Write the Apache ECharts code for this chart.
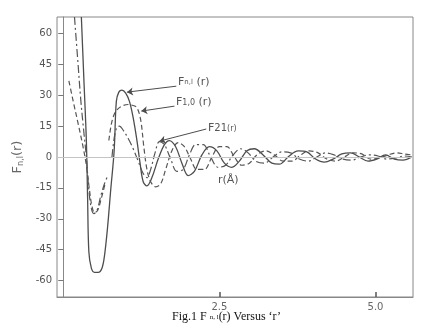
<!DOCTYPE html>
<html>
<head>
<meta charset="utf-8">
<script src="https://cdn.jsdelivr.net/npm/echarts@6/dist/echarts.min.js"></script>
<style>
  html, body { margin: 0; padding: 0; background: #fff; }
  #chart { width: 441px; height: 330px; }
</style>
</head>
<body>
<div id="chart"></div>
<script>
// values (r in Å)
const rNl = [0.29, 0.33, 0.37, 0.39, 0.41, 0.45, 0.50, 0.56, 0.62, 0.66, 0.71, 0.76, 0.815, 0.85, 0.89, 0.94, 1.00, 1.06, 1.12, 1.18, 1.23, 1.28, 1.34, 1.42, 1.52, 1.62, 1.70, 1.80, 1.90, 2.00, 2.10, 2.22, 2.34, 2.46, 2.58, 2.70, 2.82, 2.94, 3.06, 3.20, 3.34, 3.46, 3.60, 3.76, 3.90, 4.04, 4.18, 4.32, 4.46, 4.60, 4.74, 4.88, 5.02, 5.16, 5.30, 5.44, 5.58]
const fNl = [68, 38, 8, -20, -46, -54, -56, -56, -54, -48, -34, -16, 3, 27, 31.5, 32.5, 31, 27, 19, 8, -3, -12, -14, -10, -1, 6, 8, 5, -3, -9, -7, 1, 5, 3, -3, -5, -2, 3, 4, 1, -3, -3.5, 0, 3, 2.5, -1, -2.5, -1, 1.5, 2, 0, -2, -1, 1, -1, -1.5, 0]

const r10 = [0.09, 0.16, 0.24, 0.31, 0.37, 0.42, 0.46, 0.50, 0.55, 0.61, 0.67, null, 0.73, 0.77, 0.82, 0.88, 0.96, 1.04, 1.12, 1.18, 1.24, 1.29, 1.34, 1.40, 1.48, 1.56, 1.64, 1.74, 1.84, 1.94, 2.04, 2.14, 2.26, 2.38, 2.50, 2.62, 2.74, 2.86, 2.98, 3.10, 3.24, 3.38, 3.52, 3.66, 3.80, 3.94, 4.08, 4.22, 4.36, 4.50, 4.64, 4.78, 4.92, 5.06, 5.20, 5.34, 5.46, 5.58]
const f10 = [37, 27, 16, 6, -4, -16, -24, -27, -26, -20, -13, null, 8, 16, 21, 23.5, 25, 25.5, 25, 24, 18, 5, -6, -12, -14.5, -13, -6, 3, 7, 5, -1, -6, -6, 0, 5, 5, 0, -4, -3, 1, 3, 1, -2, -2, 1, 3, 2, -1, -2, 0, 2, 1.5, -1, -0.5, 1, 2, 1.5, 1]

const r21 = [0.18, 0.23, 0.28, 0.33, 0.37, 0.41, 0.45, 0.49, 0.54, 0.60, 0.66, 0.70, null, 0.78, 0.82, 0.86, 0.90, 0.96, 1.04, 1.12, 1.20, 1.28, 1.34, 1.40, 1.47, 1.54, 1.62, 1.72, 1.82, 1.92, 2.02, 2.12, 2.24, 2.36, 2.48, 2.60, 2.72, 2.84, 2.96, 3.08, 3.22, 3.36, 3.50, 3.64, 3.78, 3.92, 4.06, 4.20, 4.34, 4.48, 4.62, 4.76, 4.90, 5.04, 5.18, 5.32, 5.46, 5.58]
const f21 = [68, 48, 28, 12, 0, -16, -25, -27.5, -26, -19, -13, -10, null, 0, 10, 14.5, 15, 13, 9, 4, -2, -8, -10, -6, 2, 7.5, 6, -1, -7, -6, 1, 6, 6, 0, -5, -4, 1, 4, 2, -2, -3, 0, 2.5, 2, -1, -2, 0, 2, 1, -1, -1.5, 0, 1, 0.5, -1, -0.5, 0.5, 0]

const xTicks = [2.5, 5.0]
const yTicks = [-60, -45, -30, -15, 0, 15, 30, 45, 60]

// arrows from the curve labels to the curves: [from, to] in data units
const arrowNl = [[1.81, 34.4], [1.02, 31.5]]
const arrow10 = [[1.78, 24.7], [1.25, 22.3]]
const arrow21 = [[2.29, 13.6], [1.54, 7.7]]

const pairs = (xs, ys) => xs.map((x, i) => (ys[i] === null ? ['-', '-'] : [x, ys[i]]))

const ink = '#4d4d4d'

const arrowLine = (a) => ({
  silent: true,
  symbol: ['none', 'arrow'],
  symbolSize: 6,
  label: { show: false },
  lineStyle: { color: ink, type: 'solid', width: 1 },
  data: [[{ coord: a[0] }, { coord: a[1] }]]
})

const chart = echarts.init(document.getElementById('chart'))

const option = {
  animation: false,
  backgroundColor: '#fff',
  grid: { left: 57, right: 28, top: 17, bottom: 33, show: true, borderColor: '#888', borderWidth: 1 },
  xAxis: {
    type: 'value',
    min: -0.1,
    max: 5.6,
    axisLine: { show: true, onZero: false, lineStyle: { color: '#888' } },
    axisTick: { show: true, inside: true, length: 5, customValues: xTicks, lineStyle: { color: '#555', width: 1.5 } },
    axisLabel: { customValues: xTicks, formatter: (v) => v.toFixed(1), color: '#666', fontSize: 10, margin: 5, fontFamily: 'DejaVu Sans' },
    splitLine: { show: false }
  },
  yAxis: {
    type: 'value',
    min: -68,
    max: 68,
    name: '{f|F}{s|n,l}{f|(r)}',
    nameLocation: 'middle',
    nameRotate: 90,
    nameGap: 31,
    nameTextStyle: {
      rich: {
        f: { fontSize: 13, color: '#666', fontFamily: 'DejaVu Sans' },
        s: { fontSize: 8, color: '#666', fontFamily: 'DejaVu Sans', verticalAlign: 'bottom', padding: [6, 0, 0, 0] }
      }
    },
    axisLine: { show: true, lineStyle: { color: '#888' } },
    axisTick: { show: true, length: 5, customValues: yTicks, lineStyle: { color: '#777' } },
    axisLabel: { customValues: yTicks, color: '#555', fontSize: 10, margin: 5, fontFamily: 'DejaVu Sans' },
    splitLine: { show: false }
  },
  series: [
    {
      name: 'Fnl',
      type: 'line',
      data: pairs(rNl, fNl),
      smooth: 0.35,
      showSymbol: false,
      lineStyle: { color: ink, width: 1.3 },
      markLine: {
        silent: true,
        symbol: 'none',
        label: { show: false },
        lineStyle: { color: '#c4c4c4', type: 'solid', width: 1 },
        data: [{ yAxis: 0 }]
      }
    },
    {
      name: 'F10',
      type: 'line',
      data: pairs(r10, f10),
      smooth: 0.35,
      showSymbol: false,
      connectNulls: false,
      lineStyle: { color: '#555', width: 1.2, type: [5, 3] },
      markLine: arrowLine(arrow10)
    },
    {
      name: 'F21',
      type: 'line',
      data: pairs(r21, f21),
      smooth: 0.35,
      showSymbol: false,
      connectNulls: false,
      lineStyle: { color: '#555', width: 1.2, type: [8, 3, 2, 3] },
      markLine: arrowLine(arrow21)
    },
    {
      name: 'arrowNl',
      type: 'line',
      data: [],
      markLine: arrowLine(arrowNl)
    }
  ],
  graphic: [
    {
      type: 'text', left: 178, top: 77,
      style: { rich: { f: { fontSize: 11, fill: '#555', fontFamily: 'DejaVu Sans' }, s: { fontSize: 7, fill: '#555', fontFamily: 'DejaVu Sans' } }, text: '{f|F}{s|n,l}{f| (r)}' }
    },
    {
      type: 'text', left: 176, top: 97,
      style: { rich: { f: { fontSize: 11, fill: '#555', fontFamily: 'DejaVu Sans' }, s: { fontSize: 8, fill: '#555', fontFamily: 'DejaVu Sans' } }, text: '{f|F}{s|1,0}{f| (r)}' }
    },
    {
      type: 'text', left: 208, top: 123,
      style: { rich: { f: { fontSize: 11, fill: '#555', fontFamily: 'DejaVu Sans' }, s: { fontSize: 10, fill: '#555', fontFamily: 'DejaVu Sans' }, p: { fontSize: 8, fill: '#555', fontFamily: 'DejaVu Sans' } }, text: '{f|F}{s|21}{p|(r)}' }
    },
    {
      type: 'text', left: 218, top: 175,
      style: { text: 'r(Å)', fontSize: 11, fill: '#555', fontFamily: 'DejaVu Sans' }
    },
    {
      type: 'text', left: 172, top: 311,
      style: {
        rich: {
          t: { fontSize: 12, fill: '#111', fontFamily: 'Liberation Serif' },
          s: { fontSize: 7, fill: '#111', fontFamily: 'Liberation Serif' }
        },
        text: '{t|Fig.1 F }{s|n, l}{t|(r) Versus ‘r’}'
      }
    }
  ]
}

chart.setOption(option)
</script>
</body>
</html>
